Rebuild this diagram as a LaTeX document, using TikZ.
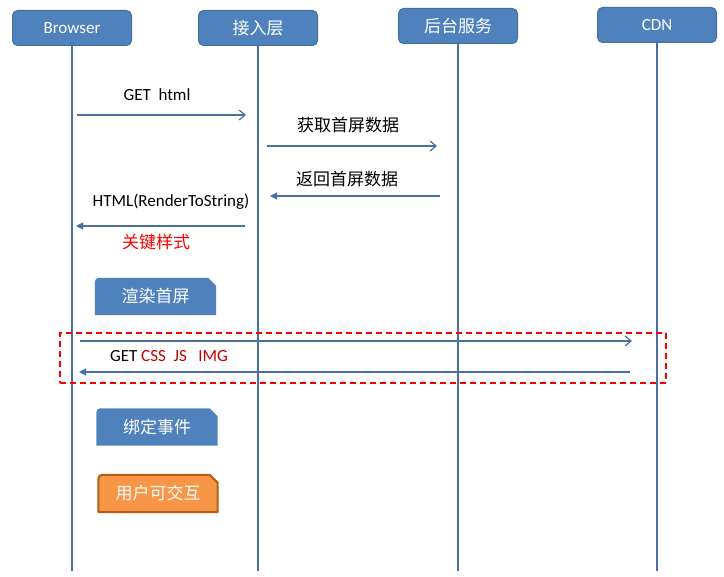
\documentclass[tikz,border=0pt]{standalone}
\usepackage{fontspec}
\setmainfont{Carlito}
\newfontfamily\cjk{Noto Sans CJK SC}
\usetikzlibrary{arrows.meta}
\definecolor{boxblue}{HTML}{4F81BD}
\definecolor{boxedge}{HTML}{41719C}
\definecolor{lineblue}{HTML}{4A6FA0}
\definecolor{orangefill}{HTML}{F79646}
\definecolor{orangeedge}{HTML}{B25E14}
\definecolor{darkred}{HTML}{C00000}
\tikzset{
  header/.style={draw=boxedge, fill=boxblue, line width=1pt, rounded corners=5pt,
    minimum width=119pt, minimum height=35pt, text=white, font=\fontsize{17}{19}\selectfont},
  lifeline/.style={draw=lineblue, line width=1.2pt},
  msg/.style={draw=lineblue, line width=1.2pt},
  openhead/.style={-{Straight Barb[length=6pt,width=10pt,line width=1.2pt]}},
  fillhead/.style={-{Triangle[length=7pt,width=7pt]}},
  lbl/.style={font=\fontsize{17}{19}\selectfont, text=black, inner sep=0pt},
  cjklbl/.style={font=\cjk\fontsize{17}{19}\selectfont, text=black, inner sep=0pt},
  stepbox/.style={minimum width=121pt, minimum height=37pt, inner sep=0pt,
    text=white, font=\cjk\fontsize{17}{19}\selectfont},
}
\newcommand{\snipshape}[2]{% node name, style
  \path[#2] (#1.south west) -- ([yshift=-4pt]#1.north west) arc[start angle=180,end angle=90,radius=4pt]
    -- ([xshift=-8pt]#1.north east) -- ([yshift=-8pt]#1.north east) -- (#1.south east) -- cycle;}
\begin{document}
\begin{tikzpicture}[x=1pt,y=-1pt]
\useasboundingbox (0,0) rectangle (724,577);
% headers
\node[header] (br) at (72,28) {Browser};
\node[header] (jr) at (258,28) {\cjk 接入层};
\node[header] (ht) at (458,26) {\cjk 后台服务};
\node[header] (cdn) at (657,25) {CDN};
% lifeline ends
\coordinate (brE) at (72,571);
\coordinate (jrE) at (258,571);
\coordinate (htE) at (458,571);
\coordinate (cdnE) at (657,571);
\draw[lifeline] (br.south) -- (brE);
\draw[lifeline] (jr.south) -- (jrE);
\draw[lifeline] (ht.south) -- (htE);
\draw[lifeline] (cdn.south) -- (cdnE);
% messages
\coordinate (m1s) at (77,115); \coordinate (m1e) at (246,115);
\draw[msg,openhead] (m1s) -- (m1e);
\node[lbl] (l1) at (157,95) {GET\ \ html};
\coordinate (m2s) at (267,146); \coordinate (m2e) at (437,146);
\draw[msg,openhead] (m2s) -- (m2e);
\node[cjklbl] (l2) at (348,125) {获取首屏数据};
\coordinate (m3s) at (440,196); \coordinate (m3e) at (270,196);
\draw[msg,fillhead] (m3s) -- (m3e);
\node[cjklbl] (l3) at (347,179) {返回首屏数据};
\coordinate (m4s) at (245,226); \coordinate (m4e) at (76,226);
\draw[msg,fillhead] (m4s) -- (m4e);
\node[lbl] (l4) at (171,202) {HTML(RenderToString)};
\node[cjklbl,text=red] (l5) at (156,242) {关键样式};
% render box
\node[stepbox] (render) at (155.5,296.5) {};
\snipshape{render}{fill=boxblue}
\node[stepbox] at (render) {渲染首屏};
% CDN exchange
\node[draw=red, dash pattern=on 6pt off 4pt, line width=1.4pt, minimum width=606pt, minimum height=50pt, inner sep=0pt] (dbox) at (363,358) {};
\coordinate (m5s) at (80,341); \coordinate (m5e) at (632,341);
\draw[msg,openhead] (m5s) -- (m5e);
\coordinate (m6s) at (630,372); \coordinate (m6e) at (79,372);
\draw[msg,fillhead] (m6s) -- (m6e);
\node[lbl] (l6) at (169,356) {GET \textcolor{darkred}{CSS\ \ JS\ \ \ IMG}};
% bind box
\node[stepbox] (bind) at (157,427) {};
\snipshape{bind}{fill=boxblue}
\node[stepbox] at (bind) {绑定事件};
% interactive box
\node[stepbox, minimum width=119pt] (inter) at (158,493.5) {};
\snipshape{inter}{fill=orangefill, draw=orangeedge, line width=2pt, line join=round}
\node[stepbox] at (inter) {用户可交互};
\end{tikzpicture}
\end{document}
